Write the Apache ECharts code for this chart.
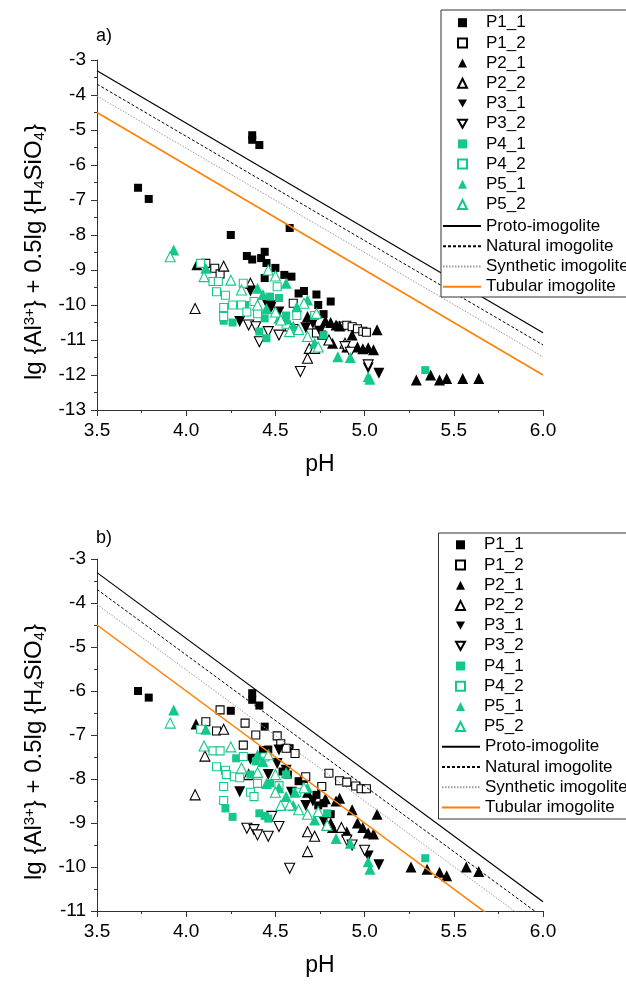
<!DOCTYPE html>
<html><head><meta charset="utf-8">
<script src="https://cdn.jsdelivr.net/npm/echarts@6/dist/echarts.min.js"></script>
<style>html,body{margin:0;padding:0;background:#fff}#c{width:626px;height:984px}</style>
</head><body><div id="c"></div><script>
// ---------- tick labels ----------
const X_TICKS = [3.5, 4.0, 4.5, 5.0, 5.5, 6.0];
const Y_TICKS_A = [-13, -12, -11, -10, -9, -8, -7, -6, -5, -4, -3];
const Y_TICKS_B = [-11, -10, -9, -8, -7, -6, -5, -4, -3];

// ---------- legend / series names ----------
const SCATTER_NAMES = ['P1_1','P1_2','P2_1','P2_2','P3_1','P3_2','P4_1','P4_2','P5_1','P5_2'];
const LINE_NAMES = ['Proto-imogolite','Natural imogolite','Synthetic imogolite','Tubular imogolite'];

// ---------- reference lines: [pH, value] end points ----------
const PROTO = [[3.5,-3.31],[6.0,-10.79]];
const NATURAL = [[3.5,-3.69],[6.0,-11.14]];
const SYNTHETIC = [[3.5,-4.03],[6.0,-11.48]];
const TUBULAR = [[3.5,-4.5],[6.0,-12.0]];

// ---------- panel a) data [pH, value] ----------
const A_P1_1 = [[3.73,-6.65],[3.79,-6.97],[4.37,-5.15],[4.37,-5.28],[4.41,-5.43],[4.25,-8.0],[4.58,-7.8],[4.34,-8.6],[4.37,-8.7],[4.42,-8.66],[4.44,-8.48],[4.45,-8.8],[4.50,-8.94],[4.44,-9.23],[4.55,-9.14],[4.59,-9.19],[4.63,-9.67],[4.66,-9.6],[4.73,-9.7],[4.81,-9.9],[4.74,-10.0],[4.77,-10.26]];
const A_P1_2 = [[4.11,-8.81],[4.16,-8.95],[4.19,-9.11],[4.60,-9.95],[4.70,-10.57],[4.76,-10.86],[4.73,-10.8],[4.87,-10.6],[4.90,-10.58],[4.93,-10.62],[4.96,-10.68],[4.99,-10.75],[5.01,-10.78]];
const A_P2_1 = [[4.06,-8.85],[4.68,-10.33],[4.78,-10.45],[4.81,-10.5],[4.84,-10.57],[4.86,-10.6],[4.82,-11.09],[4.90,-11.2],[4.93,-10.86],[4.96,-11.2],[4.99,-11.25],[5.02,-11.22],[5.05,-11.28],[5.07,-10.71],[5.29,-12.14],[5.37,-12.0],[5.42,-12.14],[5.46,-12.1],[5.55,-12.1],[5.64,-12.1]];
const A_P2_2 = [[4.05,-10.1],[4.21,-8.89],[4.36,-9.38],[4.68,-11.52],[4.69,-11.24],[4.72,-11.24],[4.89,-11.09],[4.58,-10.6],[4.80,-11.0]];
const A_P3_1 = [[4.30,-10.47],[4.36,-9.6],[4.45,-9.95],[4.48,-10.02],[4.47,-10.12],[4.52,-10.2],[4.67,-10.65],[4.71,-10.52],[4.75,-10.75],[5.02,-11.8],[5.08,-11.95]];
const A_P3_2 = [[4.35,-10.57],[4.39,-10.62],[4.41,-11.05],[4.46,-10.76],[4.52,-10.86],[4.60,-10.7],[4.64,-11.9],[4.89,-11.19],[4.92,-11.35],[5.02,-11.71]];
const A_P4_1 = [[4.21,-10.45],[4.26,-10.5],[4.33,-10.0],[4.41,-10.76],[4.44,-10.38],[4.45,-10.95],[4.47,-9.76],[4.52,-9.8],[4.56,-10.3],[4.77,-10.86],[5.34,-11.86]];
const A_P4_2 = [[4.08,-8.81],[4.15,-9.33],[4.18,-9.33],[4.17,-9.62],[4.22,-9.72],[4.21,-10.07],[4.21,-10.33],[4.26,-10.0],[4.31,-10.0],[4.32,-9.38],[4.34,-10.2],[4.38,-9.9],[4.40,-10.25],[4.51,-9.48],[4.56,-10.55],[4.62,-10.3],[4.72,-10.3]];
const A_P5_1 = [[3.93,-8.43],[4.11,-8.95],[4.40,-9.52],[4.43,-9.7],[4.56,-9.38],[4.62,-10.05],[4.52,-10.38],[4.56,-10.4],[4.68,-9.86],[4.72,-11.09],[4.85,-11.48],[4.92,-11.5],[5.02,-12.05],[5.03,-12.12],[4.45,-10.1],[4.60,-10.6]];
const A_P5_2 = [[3.91,-8.62],[4.10,-9.19],[4.25,-9.29],[4.31,-9.57],[4.40,-10.0],[4.46,-9.0],[4.50,-9.17],[4.50,-10.2],[4.53,-10.43],[4.58,-10.76],[4.63,-10.7],[4.66,-9.95],[4.68,-10.9],[4.73,-10.24],[4.74,-11.2]];

// ---------- panel b) data [pH, value] ----------
const B_P1_1 = [[3.73,-6.0],[3.79,-6.15],[4.37,-6.05],[4.37,-6.2],[4.41,-6.33],[4.25,-6.45],[4.44,-6.81],[4.43,-7.34],[4.46,-7.33],[4.54,-7.83],[4.57,-7.9],[4.58,-7.3],[4.63,-8.05],[4.66,-8.0],[4.73,-8.36],[4.74,-8.6],[4.77,-8.55],[4.81,-8.8]];
const B_P1_2 = [[4.11,-6.7],[4.17,-6.91],[4.19,-6.43],[4.32,-7.23],[4.33,-6.73],[4.39,-7.0],[4.51,-7.02],[4.53,-7.2],[4.56,-7.3],[4.61,-7.42],[4.67,-7.95],[4.76,-8.17],[4.80,-7.87],[4.86,-8.04],[4.90,-8.07],[4.95,-8.16],[4.98,-8.22],[5.01,-8.22]];
const B_P2_1 = [[4.055,-6.75],[4.68,-8.3],[4.78,-8.45],[4.81,-9.0],[4.84,-8.5],[4.86,-8.44],[4.82,-9.1],[4.90,-9.2],[4.93,-8.7],[4.96,-9.0],[4.99,-9.1],[5.02,-9.23],[5.05,-9.25],[5.07,-8.8],[5.26,-10.0],[5.35,-10.05],[5.42,-10.12],[5.46,-10.2],[5.57,-10.0],[5.64,-10.1]];
const B_P2_2 = [[4.05,-8.36],[4.21,-6.87],[4.105,-7.48],[4.35,-7.9],[4.68,-9.2],[4.72,-9.3],[4.68,-9.65],[4.79,-9.05],[4.87,-9.1]];
const B_P3_1 = [[4.30,-8.29],[4.36,-7.55],[4.46,-7.9],[4.51,-7.65],[4.52,-7.34],[4.56,-7.8],[4.59,-8.3],[4.67,-8.6],[4.71,-8.5],[4.77,-8.95],[5.02,-9.75],[5.08,-9.95]];
const B_P3_2 = [[4.34,-9.12],[4.38,-9.15],[4.40,-9.27],[4.46,-9.3],[4.52,-9.08],[4.48,-8.85],[4.58,-10.03],[4.90,-9.39],[4.93,-9.5],[5.0,-9.62]];
const B_P4_1 = [[4.22,-8.67],[4.26,-8.86],[4.28,-7.53],[4.36,-7.9],[4.39,-7.6],[4.41,-8.78],[4.44,-8.84],[4.46,-8.9],[4.47,-8.1],[4.56,-7.9],[4.79,-8.78],[5.34,-9.8]];
const B_P4_2 = [[4.08,-6.87],[4.15,-7.36],[4.19,-7.36],[4.17,-7.72],[4.22,-7.8],[4.225,-7.9],[4.21,-8.17],[4.21,-8.49],[4.27,-7.95],[4.30,-7.97],[4.32,-7.49],[4.36,-8.3],[4.38,-8.4],[4.40,-8.1],[4.44,-7.5],[4.52,-8.15],[4.62,-8.3]];
const B_P5_1 = [[3.93,-6.43],[4.11,-6.87],[4.40,-7.45],[4.43,-7.6],[4.56,-7.85],[4.61,-8.3],[4.52,-8.2],[4.56,-8.4],[4.68,-8.2],[4.72,-8.93],[4.84,-9.35],[4.92,-9.46],[5.02,-9.88],[5.03,-10.05],[4.45,-8.1],[4.60,-8.6]];
const B_P5_2 = [[3.91,-6.73],[4.10,-7.25],[4.25,-7.27],[4.31,-7.75],[4.40,-7.85],[4.46,-7.45],[4.50,-7.9],[4.50,-8.3],[4.53,-8.6],[4.58,-8.59],[4.63,-8.7],[4.66,-8.2],[4.68,-8.8],[4.74,-8.74],[4.79,-9.05]];

const A_DATA = [A_P1_1,A_P1_2,A_P2_1,A_P2_2,A_P3_1,A_P3_2,A_P4_1,A_P4_2,A_P5_1,A_P5_2];
const B_DATA = [B_P1_1,B_P1_2,B_P2_1,B_P2_2,B_P3_1,B_P3_2,B_P4_1,B_P4_2,B_P5_1,B_P5_2];
const LINE_DATA = [PROTO, NATURAL, SYNTHETIC, TUBULAR];

// ---------- styles ----------
const BLACK = '#000000';
const GREEN = '#14c88c';
const DOWN_TRI = 'path://M0,0L10,0L5,9Z';
const STYLE = [
  {sym:'rect', c:BLACK, fill:true},
  {sym:'rect', c:BLACK, fill:false},
  {sym:'triangle', c:BLACK, fill:true},
  {sym:'triangle', c:BLACK, fill:false},
  {sym:'triangle', c:BLACK, fill:true, rot:180},
  {sym:'triangle', c:BLACK, fill:false, rot:180},
  {sym:'rect', c:GREEN, fill:true},
  {sym:'rect', c:GREEN, fill:false},
  {sym:'triangle', c:GREEN, fill:true},
  {sym:'triangle', c:GREEN, fill:false}
];
const LINE_STYLE = [
  {color:'#000000', type:'solid', width:1.2},
  {color:'#000000', type:[3,2], width:1},
  {color:'#9a9a9a', type:[1.5,1.5], width:1},
  {color:'#ff7f00', type:'solid', width:1.5}
];

const FONT = 'Liberation Sans, Arial, sans-serif';
const GRID_A = {left:97, top:60, width:446, height:350};
const GRID_B = {left:97, top:559, width:446, height:352};

function scatterSeries(data, idx) {
  return SCATTER_NAMES.map((n, i) => {
    const s = STYLE[i];
    const isRect = s.sym === 'rect';
    return {
      type:'scatter', name:n, xAxisIndex:idx, yAxisIndex:idx, data:data[i],
      symbol:s.sym, symbolRotate:s.rot || 0,
      symbolSize: isRect ? 8 : (s.fill ? 11 : 10),
      itemStyle: s.fill ? {color:s.c, borderWidth:0, opacity:1}
                        : {color:'#ffffff', borderColor:s.c, borderWidth:1.1, opacity:1},
      emphasis:{disabled:true}, z:2
    };
  });
}
function lineSeries(idx) {
  return LINE_NAMES.map((n, i) => ({
    type:'line', name:n, xAxisIndex:idx, yAxisIndex:idx, data:LINE_DATA[i],
    symbol:'none', showSymbol:false, clip:true,
    lineStyle:{color:LINE_STYLE[i].color, type:LINE_STYLE[i].type, width:LINE_STYLE[i].width},
    itemStyle:{color:LINE_STYLE[i].color},
    emphasis:{disabled:true}, z:3
  }));
}

function xAxis(idx) {
  return {
    type:'value', gridIndex:idx, min:X_TICKS[0], max:X_TICKS[X_TICKS.length-1], interval:0.5,
    name:'pH', nameLocation:'middle', nameGap:43,
    nameTextStyle:{fontSize:23, color:'#000', fontFamily:FONT},
    axisLine:{show:true, onZero:false, lineStyle:{color:'#333', width:1}},
    axisTick:{show:true, inside:false, length:6, lineStyle:{color:'#333'}},
    minorTick:{show:true, splitNumber:2, length:3, lineStyle:{color:'#333'}},
    splitLine:{show:false},
    axisLabel:{fontSize:19, color:'#000', fontFamily:FONT, margin:11, formatter:v => v.toFixed(1)}
  };
}
const Y_NAME = 'lg {Al{sup|3+}} + 0.5lg {H{sub|4}SiO{sub|4}}';
function yAxis(idx, ticks) {
  return {
    type:'value', gridIndex:idx, min:ticks[0], max:ticks[ticks.length-1], interval:1,
    name:Y_NAME, nameLocation:'middle', nameRotate:90, nameGap:50,
    nameTextStyle:{fontSize:24, color:'#000', fontFamily:FONT, lineHeight:25, padding:[0,34,0,0],
      rich:{sup:{fontSize:15, verticalAlign:'top', fontFamily:FONT, color:'#000', lineHeight:15},
            sub:{fontSize:15, verticalAlign:'bottom', fontFamily:FONT, color:'#000', lineHeight:15}}},
    axisLine:{show:true, onZero:false, lineStyle:{color:'#333', width:1}},
    axisTick:{show:true, inside:false, length:6, lineStyle:{color:'#333'}},
    minorTick:{show:true, splitNumber:2, length:3, lineStyle:{color:'#333'}},
    splitLine:{show:false},
    axisLabel:{fontSize:19, color:'#000', fontFamily:FONT, margin:11}
  };
}

function legends(left, topScatter, lineLeft, topLine) {
  const common = {orient:'vertical', itemGap:0, padding:0, selectedMode:false, z:10,
    textStyle:{fontSize:17, color:'#000', fontFamily:FONT, lineHeight:20.2}};
  const scatterItems = SCATTER_NAMES.map((n, i) => STYLE[i].rot ? {name:n, icon:DOWN_TRI} : {name:n});
  return [
    Object.assign({}, common, {data:scatterItems, left:left, top:topScatter, itemWidth:9, itemHeight:9,
      textStyle:Object.assign({}, common.textStyle, {padding:[0,0,0,14]})}),
    Object.assign({}, common, {data:LINE_NAMES, left:lineLeft, top:topLine, itemWidth:38, itemHeight:10,
      itemStyle:{opacity:0}})
  ];
}

const option = {
  animation:false,
  backgroundColor:'#fff',
  title:[
    {text:'a)', left:96, top:27, padding:0, textStyle:{fontSize:18, fontWeight:'normal', color:'#000', fontFamily:FONT}},
    {text:'b)', left:96, top:529, padding:0, textStyle:{fontSize:18, fontWeight:'normal', color:'#000', fontFamily:FONT}}
  ],
  grid:[GRID_A, GRID_B],
  xAxis:[xAxis(0), xAxis(1)],
  yAxis:[yAxis(0, Y_TICKS_A), yAxis(1, Y_TICKS_B)],
  legend: legends(457, 12.6, 442, 216).concat(legends(455, 534.7, 441, 736.7)),
  graphic:[
    {type:'rect', z:5, shape:{x:441, y:10, width:200, height:287}, style:{fill:'#fff', stroke:'#333', lineWidth:1}},
    {type:'rect', z:5, shape:{x:438.5, y:533, width:200, height:286}, style:{fill:'#fff', stroke:'#333', lineWidth:1}}
  ],
  series: scatterSeries(A_DATA, 0).concat(lineSeries(0), scatterSeries(B_DATA, 1), lineSeries(1))
};
const chart = echarts.init(document.getElementById('c'), null, {renderer:'canvas'});
chart.setOption(option);
</script></body></html>
